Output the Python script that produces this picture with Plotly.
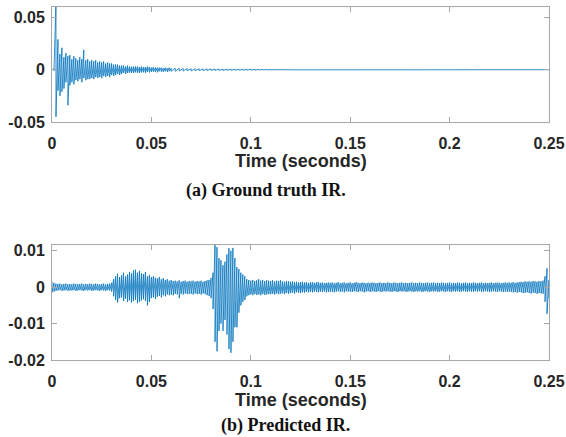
import numpy as np
import plotly.graph_objects as go

# ---------------- data ----------------
# (a) Ground truth IR: envelope peaks, in units of 1e-3
step_a1 = 0.001          # 0.000 .. 0.060
hi_a1 = [0, 1, 65, 29, 15, 21, 12, 16, 13, 14,
         10, 13, 11, 9, 12, 10, 19, 9, 10, 8,
         9, 8, 9, 7, 8, 7, 8, 6, 7, 6,
         6, 5, 5, 5, 4, 4, 4, 3, 4, 3,
         3, 3, 3, 3, 2.5, 3, 2.5, 2.5, 3, 2.5,
         2, 2.5, 2, 2, 2, 2, 1.5, 2, 1.5, 2, 1.5]
lo_a1 = [0, -1, -45, -20, -25, -21, -18, -12, -34, -15,
         -12, -14, -10, -11, -9, -12, -8, -10, -9, -9,
         -8, -9, -7, -8, -7, -8, -6, -7, -6, -7,
         -5, -6, -5, -4, -5, -4, -3, -4, -3, -3,
         -3, -3, -2.5, -3, -3, -2.5, -2.5, -3, -2, -2.5,
         -2, -2, -2, -2.5, -1.5, -2, -2, -1.5, -2, -1.5, -1.5]
step_a2 = 0.002          # 0.062 .. 0.120
hi_a2 = [1.5, 1.5, 1.2, 1.2, 1, 1, 1, 0.8, 0.8, 0.8,
         0.7, 0.7, 0.6, 0.6, 0.5, 0.5, 0.5, 0.4, 0.4, 0.4,
         0.3, 0.3, 0.3, 0.3, 0.2, 0.2, 0.2, 0.2, 0.1, 0.1]
lo_a2 = [-1.5, -1.2, -1.2, -1, -1.2, -1, -0.8, -0.9, -0.8, -0.7,
         -0.7, -0.6, -0.7, -0.5, -0.6, -0.5, -0.4, -0.5, -0.4, -0.3,
         -0.4, -0.3, -0.3, -0.2, -0.3, -0.2, -0.2, -0.1, -0.2, -0.1]
t_end_a = 0.25
unit_a = 1e-3

# (b) Predicted IR: envelope peaks, in units of 1e-4, one pair every 1 ms
step_b = 0.001
hi_b = [16, 12, 10, 9, 10, 8, 9, 10, 8, 9,
        8, 10, 9, 8, 9, 10, 8, 9, 8, 10,
        9, 8, 10, 9, 8, 9, 10, 8, 9, 10,
        12, 22, 30, 37, 28, 33, 40, 30, 35, 42,
        38, 46, 48, 40, 45, 38, 36, 42, 30, 34,
        28, 30, 26, 24, 28, 22, 25, 20, 22, 18,
        20, 17, 18, 16, 19, 15, 17, 18, 15, 17,
        16, 18, 15, 17, 16, 18, 15, 17, 19, 20,
        25, 40, 116, 110, 80, 74, 60, 70, 90, 107,
        100, 108, 80, 55, 50, 40, 35, 30, 22, 20,
        18, 20, 17, 19, 22, 18, 20, 17, 19, 18,
        17, 19, 16, 18, 17, 19, 16, 15, 17, 16,
        15, 16, 14, 15, 13, 14, 15, 13, 14, 12,
        13, 14, 12, 13, 14, 12, 13, 11, 12, 13,
        12, 13, 11, 12, 14, 11, 12, 13, 11, 12,
        13, 11, 12, 14, 12, 11, 13, 12, 11, 12,
        11, 13, 12, 11, 12, 13, 11, 12, 11, 13,
        12, 11, 13, 12, 11, 12, 13, 11, 12, 11,
        12, 13, 11, 12, 11, 13, 12, 11, 12, 13,
        11, 12, 13, 11, 12, 11, 13, 12, 11, 12,
        13, 11, 12, 11, 13, 12, 11, 12, 13, 11,
        12, 11, 13, 12, 11, 12, 13, 11, 12, 11,
        12, 13, 11, 12, 13, 12, 11, 12, 13, 12,
        13, 12, 14, 12, 13, 14, 15, 14, 16, 15,
        16, 15, 17, 16, 15, 17, 16, 18, 30, 52,
        20]
lo_b = [-14, -12, -10, -9, -8, -10, -9, -8, -10, -9,
        -9, -8, -10, -9, -8, -9, -10, -8, -9, -8,
        -10, -9, -8, -9, -10, -8, -9, -10, -8, -9,
        -12, -25, -35, -42, -30, -28, -38, -32, -40, -36,
        -42, -38, -35, -44, -40, -36, -33, -38, -50, -40,
        -30, -28, -32, -26, -24, -28, -22, -25, -20, -22,
        -20, -22, -18, -20, -30, -18, -20, -17, -19, -18,
        -18, -20, -17, -19, -18, -20, -17, -19, -22, -24,
        -30, -60, -150, -176, -120, -100, -120, -90, -130, -170,
        -180, -150, -110, -110, -70, -50, -40, -35, -25, -22,
        -20, -22, -19, -21, -20, -22, -19, -21, -20, -19,
        -19, -18, -20, -17, -19, -18, -17, -19, -16, -18,
        -16, -15, -17, -14, -15, -16, -14, -15, -13, -14,
        -13, -14, -12, -13, -14, -12, -13, -12, -14, -13,
        -12, -13, -14, -12, -11, -13, -12, -14, -11, -12,
        -12, -13, -11, -12, -13, -11, -12, -14, -12, -11,
        -13, -11, -12, -13, -11, -12, -13, -11, -12, -11,
        -12, -13, -11, -12, -13, -11, -12, -11, -13, -12,
        -11, -12, -13, -11, -12, -11, -13, -12, -11, -12,
        -13, -11, -12, -11, -13, -12, -11, -12, -13, -11,
        -12, -13, -11, -12, -11, -13, -12, -11, -12, -13,
        -11, -12, -13, -11, -12, -11, -13, -12, -11, -12,
        -13, -12, -11, -12, -13, -11, -12, -13, -12, -13,
        -12, -13, -14, -13, -15, -13, -14, -16, -15, -14,
        -16, -17, -15, -16, -18, -16, -17, -18, -40, -73,
        -30]
unit_b = 1e-4

x_tickvals = [0, 0.05, 0.1, 0.15, 0.2, 0.25]
x_ticktext = ["0", "0.05", "0.1", "0.15", "0.2", "0.25"]
ya_tickvals = [-0.05, 0, 0.05]
ya_ticktext = ["-0.05", "0", "0.05"]
yb_tickvals = [-0.02, -0.01, 0, 0.01]
yb_ticktext = ["-0.02", "-0.01", "0", "0.01"]
x_title = "Time (seconds)"
caption_a = "(a) Ground truth IR."
caption_b = "(b) Predicted IR."


def zigzag(t, hi, lo, unit):
    x = np.repeat(np.asarray(t, float), 2)
    y = np.column_stack([np.asarray(hi, float), np.asarray(lo, float)]).ravel() * unit
    return x, y


t_a1 = np.arange(len(hi_a1)) * step_a1
t_a2 = 0.062 + np.arange(len(hi_a2)) * step_a2
xa1, ya1 = zigzag(t_a1, hi_a1, lo_a1, unit_a)
xa2, ya2 = zigzag(t_a2, hi_a2, lo_a2, unit_a)
xa = np.concatenate([xa1, xa2, [t_end_a]])
ya = np.concatenate([ya1, ya2, [0.0]])

t_b = np.arange(len(hi_b)) * step_b
xb, yb = zigzag(t_b, hi_b, lo_b, unit_b)

W, H = 566, 437
BLUE = "#0072BD"
AX = "#a8a8a8"
TXT = "#262626"

fig = go.Figure()
fig.add_trace(go.Scatter(x=xa, y=ya, mode="lines", line=dict(color=BLUE, width=0.8),
                         xaxis="x", yaxis="y", showlegend=False, hoverinfo="skip"))
fig.add_trace(go.Scatter(x=xb, y=yb, mode="lines", line=dict(color=BLUE, width=0.8),
                         xaxis="x2", yaxis="y2", showlegend=False, hoverinfo="skip"))

L, R = 52, 549
tick_font = dict(family="Liberation Sans, Arial, sans-serif", size=16, color=TXT, weight="bold")
common_ax = dict(showline=True, linecolor=AX, linewidth=1, mirror="ticks",
                 ticks="inside", ticklen=5, tickcolor=AX, tickwidth=1,
                 showgrid=False, zeroline=False, tickfont=tick_font, automargin=False)


def ydom(top, bottom):
    return [(H - bottom) / H, (H - top) / H]


fig.update_layout(
    width=W, height=H, margin=dict(l=0, r=0, t=0, b=0),
    paper_bgcolor="white", plot_bgcolor="white",
    xaxis=dict(domain=[L / W, R / W], range=[0, 0.25], anchor="y",
               tickvals=x_tickvals, ticktext=x_ticktext, ticklabelstandoff=7, **common_ax),
    yaxis=dict(domain=ydom(7, 122), range=[-0.05, 0.06], anchor="x",
               tickvals=ya_tickvals, ticktext=ya_ticktext, ticklabelstandoff=3, **common_ax),
    xaxis2=dict(domain=[L / W, R / W], range=[0, 0.25], anchor="y2",
                tickvals=x_tickvals, ticktext=x_ticktext, ticklabelstandoff=7, **common_ax),
    yaxis2=dict(domain=ydom(245, 360), range=[-0.02, 0.0116], anchor="x2",
                tickvals=yb_tickvals, ticktext=yb_ticktext, ticklabelstandoff=3, **common_ax),
)

title_font = dict(family="Liberation Sans, Arial, sans-serif", size=18, color=TXT, weight="bold")
cap_font = dict(family="Liberation Serif, Times New Roman, serif", size=18, color="#111111", weight="bold")
cx = (L + R) / 2 / W
for ypx, text, font, xc in [
    (161, x_title, title_font, cx),
    (400, x_title, title_font, cx),
    (190, caption_a, cap_font, 266 / W),
    (425, caption_b, cap_font, 285 / W),
]:
    fig.add_annotation(x=xc, y=(H - ypx) / H, xref="paper", yref="paper",
                       text=text, showarrow=False, font=font,
                       xanchor="center", yanchor="middle")

fig.write_html("out.html", config={"displayModeBar": False},
               post_script="document.body.style.margin='0px';document.body.style.overflow='hidden';")
